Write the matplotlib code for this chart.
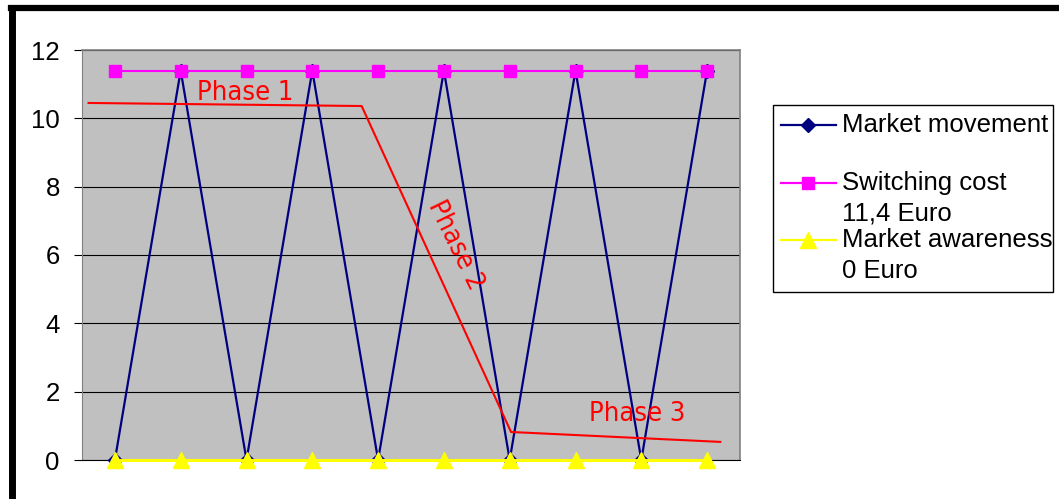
import matplotlib.pyplot as plt
from matplotlib.lines import Line2D
from matplotlib.patches import Rectangle
import numpy as np

# series values
periods = np.arange(10)
market_movement = [0, 11.4, 0, 11.4, 0, 11.4, 0, 11.4, 0, 11.4]
switching_cost = [11.4] * 10
market_awareness = [0] * 10

# phase guide line (data coords)
phase_x = [-0.4, 3.75, 6.02, 9.2]
phase_y = [10.45, 10.36, 0.82, 0.53]
phase_labels = ["Phase 1", "Phase 2", "Phase 3"]
phase_label_pos = [(1.98, 10.74), (5.17, 6.29), (7.93, 1.35)]
phase_label_rot = [0, -64, 0]

yticks = [0, 2, 4, 6, 8, 10, 12]

W, H = 1059, 499
fig = plt.figure(figsize=(W / 100, H / 100), dpi=100)
plt.rcParams['font.family'] = ['Liberation Sans', 'DejaVu Sans']


def fx(px):
    return px / W


def fy(py):
    return 1 - py / H


ax = fig.add_axes([fx(82), fy(460), fx(740) - fx(82), fy(50) - fy(460)])
ax.set_facecolor('#c0c0c0')
ax.set_xlim(-0.5, 9.5)
ax.set_ylim(0, 12)

for s in ['top', 'right']:
    ax.spines[s].set_color('#808080')
    ax.spines[s].set_linewidth(1.2)
ax.spines['left'].set_color('#808080')
ax.spines['bottom'].set_color('black')

ax.set_yticks(yticks)
ax.yaxis.grid(True, color='black', linewidth=0.8)
ax.set_axisbelow(True)
ax.tick_params(axis='y', length=6, width=0.8, labelsize=18.5, pad=10, color='black')
ax.set_xticks([])

ax.plot(periods, market_movement, color='#000080', linewidth=1.6,
        marker='D', markersize=7, markerfacecolor='#000080', zorder=3, clip_on=False)
ax.plot(periods, switching_cost, color='#ff00ff', linewidth=1.5,
        marker='s', markersize=9, markerfacecolor='#ff00ff', markeredgecolor='#ff00ff',
        zorder=4, clip_on=False)
ax.plot(periods, market_awareness, color='#ffff00', linewidth=2.2,
        marker='^', markersize=11, markerfacecolor='#ffff00', markeredgecolor='#ffff00',
        zorder=5, clip_on=False)

ax.plot(phase_x, phase_y, color='red', linewidth=1.5, zorder=6)
for lab, (tx, ty), rot in zip(phase_labels, phase_label_pos, phase_label_rot):
    ax.text(tx, ty, lab, color='red', fontsize=19.5, family='DejaVu Sans',
            fontstretch='condensed', ha='center', va='center', rotation=rot,
            rotation_mode='anchor', zorder=7)

# legend box
fig.add_artist(Rectangle((fx(773), fy(292)), fx(1053) - fx(773), fy(105) - fy(292),
                         transform=fig.transFigure, facecolor='white',
                         edgecolor='black', linewidth=1))
legend_rows = [
    ('#000080', 'D', 7, 125, ["Market movement"]),
    ('#ff00ff', 's', 9, 183, ["Switching cost", "11,4 Euro"]),
    ('#ffff00', '^', 11, 240, ["Market awareness", "0 Euro"]),
]
for col, mk, ms, py, lines in legend_rows:
    fig.add_artist(Line2D([fx(781), fx(836)], [fy(py), fy(py)], color=col, linewidth=1.6,
                          transform=fig.transFigure))
    fig.add_artist(Line2D([fx(808)], [fy(py)], color=col, marker=mk, markersize=ms,
                          markerfacecolor=col, markeredgecolor=col,
                          transform=fig.transFigure))
    for i, t in enumerate(lines):
        fig.text(fx(842), fy(py + i * 31), t, fontsize=18.5, ha='left', va='center')

# outer frame (top and left edges)
fig.add_artist(Line2D([fx(11), fx(W)], [fy(8), fy(8)], color='black', linewidth=4.5,
                      transform=fig.transFigure, solid_capstyle='projecting'))
fig.add_artist(Line2D([fx(11.5), fx(11.5)], [fy(8), fy(H)], color='black', linewidth=5,
                      transform=fig.transFigure, solid_capstyle='projecting'))

fig.savefig('out.png', dpi=100, facecolor='white')
